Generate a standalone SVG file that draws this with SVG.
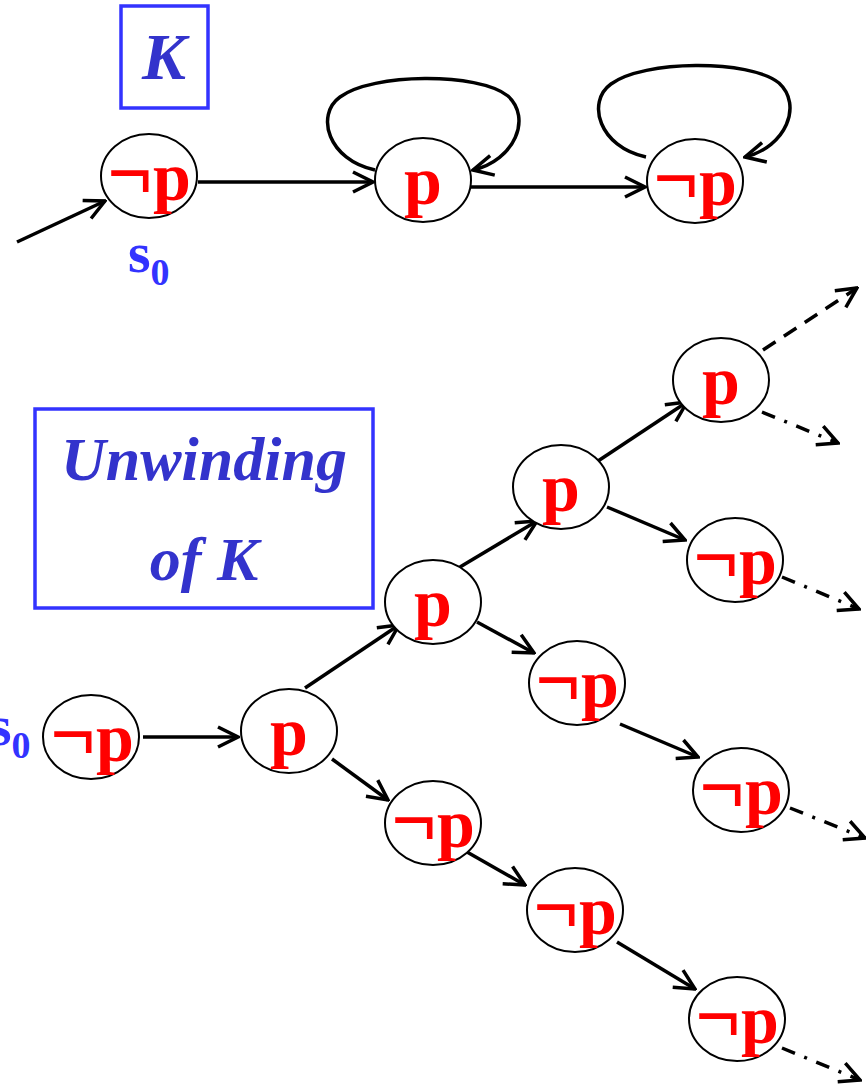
<svg xmlns="http://www.w3.org/2000/svg" width="866" height="1086" viewBox="0 0 866 1086">
<style>
.node ellipse{fill:#fff;stroke:#000;stroke-width:2}
.lbl{font-family:"Liberation Serif","Times New Roman",serif;font-weight:bold;font-size:68px;fill:#ff0000;text-anchor:middle}
.neg{font-size:80px}
.box{fill:none;stroke:#3333ff;stroke-width:3.5}
.title{font-family:"Liberation Serif","Times New Roman",serif;font-weight:bold;font-style:italic;fill:#3333cc;text-anchor:middle}
.s0{font-family:"Liberation Serif","Times New Roman",serif;font-weight:bold;font-size:58px;fill:#3333ff}
.e{fill:none;stroke:#000;stroke-width:3.5;marker-end:url(#ah)}
.dash{stroke-dasharray:15 10}
.dd{stroke-dasharray:14 10 3 10}
</style>
<defs>
<marker id="ah" viewBox="-22 -12 24 24" refX="0" refY="0" markerWidth="24" markerHeight="24" markerUnits="userSpaceOnUse" orient="auto">
<path d="M-20,-10 L0,0 L-20,10" fill="none" stroke="#000" stroke-width="3.5"/>
</marker>
</defs>
<rect width="866" height="1086" fill="#fff"/>

<g id="title-K">
<rect class="box" x="121" y="6" width="87" height="102"/>
<text class="title" x="164" y="79" font-size="66">K</text>
</g>
<g id="title-unwinding">
<rect class="box" x="35" y="409" width="338" height="199"/>
<text class="title" x="204" y="480" font-size="62">Unwinding</text>
<text class="title" x="204" y="580" font-size="62">of K</text>
</g>

<g id="connectors">
<path class="e" d="M17,242 L105,201"/>
<path class="e" d="M198,182 L373,182"/>
<path class="e" d="M471,187 L645,187"/>
<path class="e" d="M375,170 C328,160 315,115 340,97 C372,73 478,72 508,96 C532,118 515,160 473,170"/>
<path class="e" d="M646,157 C599,147 586,102 611,84 C643,60 749,59 779,83 C803,105 786,147 745,157"/>
<path class="e" d="M143,737 L238,737"/>
<path class="e" d="M305,688 L399,625"/>
<path class="e" d="M332,759 L388,800"/>
<path class="e" d="M460,567 L537,521"/>
<path class="e" d="M477,622 L534,653"/>
<path class="e" d="M595,463 L687,402"/>
<path class="e" d="M607,507 L685,540"/>
<path class="e" d="M620,724 L698,757"/>
<path class="e" d="M467,852 L525,885"/>
<path class="e" d="M617,942 L695,989"/>
<path class="e dash" d="M763,350 L857,288"/>
<path class="e dd" d="M762,412 L838,443"/>
<path class="e dd" d="M782,577 L859,609"/>
<path class="e dd" d="M790,808 L865,838"/>
<path class="e dd" d="M782,1048 L860,1080"/>
</g>

<g id="k-s0" class="node"><ellipse cx="149" cy="176" rx="48" ry="42"/><text class="lbl" x="149" y="200"><tspan class="neg">¬</tspan>p</text></g>
<g id="k-p" class="node"><ellipse cx="423" cy="180" rx="48" ry="42"/><text class="lbl" x="423" y="204">p</text></g>
<g id="k-np" class="node"><ellipse cx="695" cy="181" rx="48" ry="42"/><text class="lbl" x="695" y="205"><tspan class="neg">¬</tspan>p</text></g>
<g id="label-s0-top"><text class="s0" x="128" y="272">s<tspan font-size="38" dy="13">0</tspan></text></g>

<g id="u-s0" class="node"><ellipse cx="91" cy="737" rx="48" ry="42"/><text class="lbl" x="92" y="761"><tspan class="neg">¬</tspan>p</text></g>
<g id="label-s0-bottom"><text class="s0" x="-11" y="745">s<tspan font-size="38" dy="13">0</tspan></text></g>
<g id="u-b" class="node"><ellipse cx="289" cy="731" rx="48" ry="42"/><text class="lbl" x="289" y="755">p</text></g>
<g id="u-c" class="node"><ellipse cx="433" cy="602" rx="48" ry="42"/><text class="lbl" x="433" y="626">p</text></g>
<g id="u-d" class="node"><ellipse cx="561" cy="487" rx="48" ry="42"/><text class="lbl" x="561" y="511">p</text></g>
<g id="u-e" class="node"><ellipse cx="721" cy="380" rx="48" ry="42"/><text class="lbl" x="721" y="404">p</text></g>
<g id="u-f" class="node"><ellipse cx="735" cy="560" rx="48" ry="42"/><text class="lbl" x="735" y="584"><tspan class="neg">¬</tspan>p</text></g>
<g id="u-g" class="node"><ellipse cx="577" cy="683" rx="48" ry="42"/><text class="lbl" x="577" y="707"><tspan class="neg">¬</tspan>p</text></g>
<g id="u-h" class="node"><ellipse cx="741" cy="790" rx="48" ry="42"/><text class="lbl" x="741" y="814"><tspan class="neg">¬</tspan>p</text></g>
<g id="u-i" class="node"><ellipse cx="433" cy="823" rx="48" ry="42"/><text class="lbl" x="433" y="847"><tspan class="neg">¬</tspan>p</text></g>
<g id="u-j" class="node"><ellipse cx="575" cy="910" rx="48" ry="42"/><text class="lbl" x="575" y="934"><tspan class="neg">¬</tspan>p</text></g>
<g id="u-k" class="node"><ellipse cx="737" cy="1019" rx="48" ry="42"/><text class="lbl" x="737" y="1043"><tspan class="neg">¬</tspan>p</text></g>
</svg>
